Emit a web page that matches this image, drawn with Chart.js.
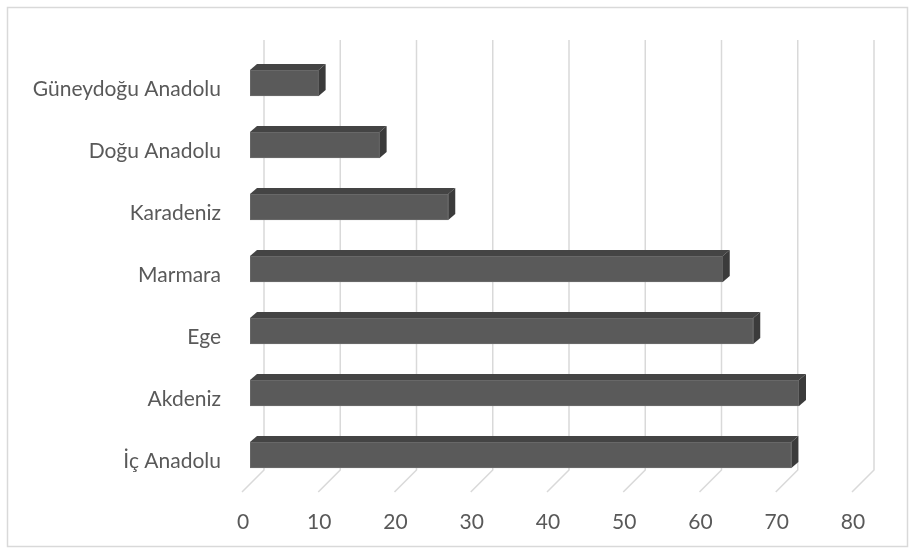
<!DOCTYPE html>
<html>
<head>
<meta charset="utf-8">
<script src="https://cdn.jsdelivr.net/npm/chart.js@4/dist/chart.umd.min.js"></script>
<style>
  html, body { margin: 0; padding: 0; background: #fff; }
  #wrap { width: 915px; height: 554px; }
</style>
</head>
<body>
<div id="wrap"><canvas id="regionChart" width="915" height="554"></canvas></div>
<script>
// --- Veriler ---
const regions = ["Güneydoğu Anadolu", "Doğu Anadolu", "Karadeniz", "Marmara", "Ege", "Akdeniz", "İç Anadolu"];
const values = [9, 17, 26, 62, 66, 72, 71];
const axisMin = 0;
const axisMax = 80;
const axisStep = 10;

// --- 3B görünüm ayarları ---
const depthX = 7;        // çubuk derinliği (yatay)
const depthY = 6;        // çubuk derinliği (dikey)
const wallShift = 14;    // arka duvar kayması
const floorShift = 8;    // ön kenar kayması
const textColor = "#595959";
const gridColor = "#d9d9d9";

// çerçeve
const framePlugin = {
  id: "frame",
  beforeDraw(chart) {
    const c = chart.ctx;
    c.save();
    c.fillStyle = "#fff";
    c.fillRect(0, 0, chart.width, chart.height);
    c.strokeStyle = gridColor;
    c.lineWidth = 1.5;
    c.strokeRect(7.5, 7.5, chart.width - 15, chart.height - 15);
    c.restore();
  }
};

// arka duvar ve zemin çizgileri
const wallGridPlugin = {
  id: "wallGrid",
  beforeDatasetsDraw(chart) {
    const c = chart.ctx;
    const xs = chart.scales.x;
    const area = chart.chartArea;
    const top = area.top - 12;
    const back = area.bottom - 16;
    const front = area.bottom + 6;
    c.save();
    c.strokeStyle = gridColor;
    c.lineWidth = 1.5;
    xs.ticks.forEach((t) => {
      const px = xs.getPixelForValue(t.value);
      c.beginPath();
      c.moveTo(px + wallShift, top);
      c.lineTo(px + wallShift, back);
      c.lineTo(px - floorShift, front);
      c.stroke();
    });
    c.restore();
  }
};

// çubukların üst ve yan yüzleri
const barFacesPlugin = {
  id: "barFaces",
  afterDatasetsDraw(chart) {
    const c = chart.ctx;
    const meta = chart.getDatasetMeta(0);
    c.save();
    meta.data.forEach((bar) => {
      const { x, y, base, height } = bar.getProps(["x", "y", "base", "height"], true);
      const top = y - height / 2;
      const bottom = y + height / 2;
      // üst yüz
      c.fillStyle = "#444444";
      c.beginPath();
      c.moveTo(base, top);
      c.lineTo(base + depthX, top - depthY);
      c.lineTo(x + depthX, top - depthY);
      c.lineTo(x, top);
      c.closePath();
      c.fill();
      // yan yüz
      c.fillStyle = "#3b3b3b";
      c.beginPath();
      c.moveTo(x, top);
      c.lineTo(x + depthX, top - depthY);
      c.lineTo(x + depthX, bottom - depthY);
      c.lineTo(x, bottom);
      c.closePath();
      c.fill();
    });
    c.restore();
  }
};

const ctx = document.getElementById("regionChart").getContext("2d");
const regionChart = new Chart(ctx, {
  type: "bar",
  data: {
    labels: regions,
    datasets: [
      {
        data: values,
        backgroundColor: "#5a5a5a",
        borderColor: "#6e6e6e",
        borderWidth: 1,
        borderSkipped: false,
        barThickness: 26,
      },
    ],
  },
  options: {
    indexAxis: "y",
    responsive: false,
    animation: false,
    layout: { padding: { left: 0, top: 52, right: 55, bottom: 0 } },
    plugins: { legend: { display: false }, tooltip: { enabled: false } },
    scales: {
      x: {
        min: axisMin,
        max: axisMax,
        border: { display: false },
        grid: { display: false, drawTicks: false },
        ticks: {
          stepSize: axisStep,
          color: textColor,
          font: { family: "Lato", size: 21 },
          padding: 24,
          labelOffset: -floorShift + 1,
          maxRotation: 0,
        },
        afterFit: (s) => { s.height = 68; },
      },
      y: {
        border: { display: false },
        grid: { display: false, drawTicks: false },
        ticks: {
          color: textColor,
          font: { family: "Lato", size: 21 },
          padding: 29,
          labelOffset: 6,
        },
        afterFit: (s) => { s.width = 250; },
      },
    },
  },
  plugins: [framePlugin, wallGridPlugin, barFacesPlugin],
});
</script>
</body>
</html>
